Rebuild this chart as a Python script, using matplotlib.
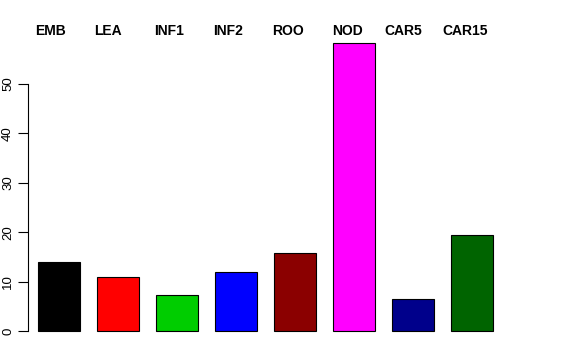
import numpy as np
import matplotlib.pyplot as plt

plt.rcParams['font.family'] = ['Liberation Sans', 'DejaVu Sans']

# data
tissues = ['EMB', 'LEA', 'INF1', 'INF2', 'ROO', 'NOD', 'CAR5', 'CAR15']
values = [14.0, 10.9, 7.3, 11.9, 15.8, 58.3, 6.5, 19.4]
colors = ['#000000', '#FF0000', '#00CD00', '#0000FF', '#8B0000', '#FF00FF', '#00008B', '#006400']

W, H = 576, 360
fig = plt.figure(figsize=(W / 100, H / 100), dpi=100)

# axes placed in pixel terms (R barplot look)
left, right = 28, 503
bottom, top = 342.5, 31.3
ax = fig.add_axes([left / W, 1 - bottom / H, (right - left) / W, (bottom - top) / H])

x = np.arange(len(tissues))
ax.bar(x, values, width=0.712, color=colors, edgecolor='black', linewidth=0.8)
ax.set_xlim(-0.525, len(tissues) - 1 + 0.525)
ax.set_ylim(-2.33, 60.66)

for s in ['top', 'right', 'bottom']:
    ax.spines[s].set_visible(False)
ax.spines['left'].set_bounds(0, 50)
ax.spines['left'].set_linewidth(0.8)
ax.set_xticks([])
ax.set_yticks(range(0, 51, 10))
ax.tick_params(axis='y', length=7, width=0.8, labelsize=9.5, pad=3)
for lab in ax.get_yticklabels():
    lab.set_rotation(90)
    lab.set_va('center')

# labels along the top, like a horizontal legend
centers = [51, 108, 169, 228, 288, 347.5, 403, 465.5]
for name, cx in zip(tissues, centers):
    fig.text(cx / W, 1 - 31 / H, name, ha='center', va='center',
             fontsize=10, fontweight='bold')

plt.savefig('out.png', dpi=100)
